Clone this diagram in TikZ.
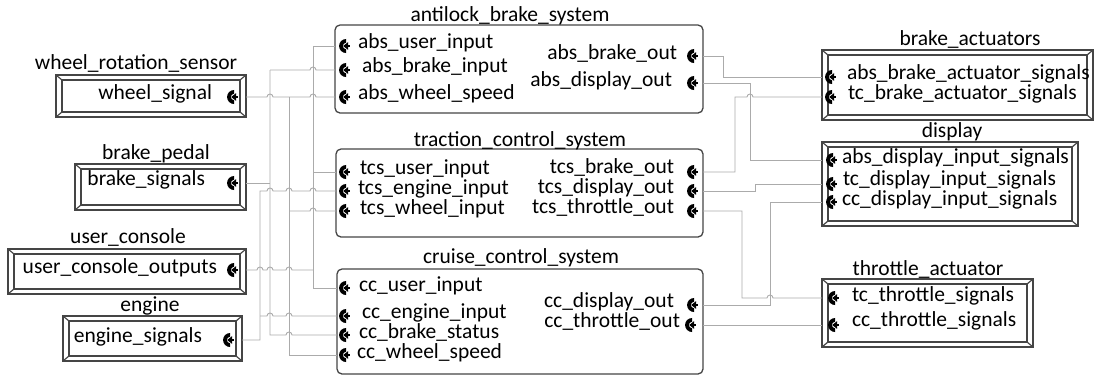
\documentclass[tikz,border=0pt]{standalone}
\usepackage{fontspec}
\setmainfont{Carlito}
\definecolor{wiregray}{HTML}{ABABAB}
\definecolor{framegray}{HTML}{454545}

% framed component box with bevelled double border
\newcommand\bevelbox[5]{%
  \node[frameline, minimum width={#4-#2}, minimum height={#5-#3}, anchor=north west] (#1) at (#2,#3) {};
  \draw[frameline] ([xshift=6pt,yshift=-5pt]#1.north west) rectangle ([xshift=-6pt,yshift=5pt]#1.south east);
  \draw[frameline] (#1.north west) -- ++(6pt,-5pt)
                   (#1.north east) -- ++(-6pt,-5pt)
                   (#1.south west) -- ++(6pt,5pt)
                   (#1.south east) -- ++(-6pt,5pt);}
% small bridge where a wire jumps over another one
\newcommand\hp[2]{-- (#1-3,#2) arc[start angle=180,end angle=0,radius=3pt]}

\begin{document}
\begin{tikzpicture}[x=1pt,y=-1pt,
  every node/.style={font=\fontsize{21.5}{24}\selectfont, inner sep=0pt, outer sep=0pt,
                     text height=10pt, text depth=2pt},
  wire/.style={draw=wiregray, line width=0.9pt},
  frameline/.style={draw=framegray, line width=1.2pt},
  midbox/.style={draw=framegray, line width=1.3pt, rounded corners=5pt, anchor=north west},
  portmark/.pic={
    \begin{scope}[scale=1.3]
    % thick crescent open to the right
    \fill[black] (1.6pt,5.4pt) .. controls (-1.38pt,5.4pt) and (-3.8pt,2.98pt) .. (-3.8pt,0pt)
                 .. controls (-3.8pt,-2.98pt) and (-1.38pt,-5.4pt) .. (1.6pt,-5.4pt)
                 -- (1.6pt,-2.5pt) .. controls (0.22pt,-2.5pt) and (-0.9pt,-1.38pt) .. (-0.9pt,0pt)
                 .. controls (-0.9pt,1.38pt) and (0.22pt,2.5pt) .. (1.6pt,2.5pt) -- cycle;
    % arrow pointing into the crescent
    \fill[black] (-0.6pt,0pt) -- (3.2pt,3pt) -- (3.2pt,-3pt) -- cycle;
    \fill[black] (3pt,-0.8pt) rectangle (4.6pt,0.8pt);
    \end{scope}}]

\useasboundingbox (0,0) rectangle (1095,376);

% ---------- external components ----------
\bevelbox{wrs}{56}{75}{246}{117}
\bevelbox{bp}{75}{164}{246}{210}
\bevelbox{uc}{8}{249}{246}{294}
\bevelbox{eng}{63}{316}{242}{361}
\bevelbox{ba}{822}{50}{1093}{120}
\bevelbox{disp}{822}{142}{1078}{226}
\bevelbox{ta}{822}{279}{1033}{347}

\node[anchor=base] (wrs-title) at (136,69) {wheel\_rotation\_sensor};
\node[anchor=base] (bp-title) at (156,159) {brake\_pedal};
\node[anchor=base] (uc-title) at (128,243) {user\_console};
\node[anchor=base] (eng-title) at (150,311) {engine};
\node[anchor=base] (ba-title) at (970,45) {brake\_actuators};
\node[anchor=base] (disp-title) at (952,137) {display};
\node[anchor=base] (ta-title) at (928,275) {throttle\_actuator};

\node[anchor=mid east] (wrs-p) at (212,97) {wheel\_signal};
\node[anchor=mid east] (bp-p) at (205,183) {brake\_signals};
\node[anchor=mid east] (uc-p) at (217,271) {user\_console\_outputs};
\node[anchor=mid east] (eng-p) at (202,340) {engine\_signals};
\pic at (232,97) {portmark};
\pic at (232,183) {portmark};
\pic at (232,270) {portmark};
\pic at (228,340) {portmark};

\node[anchor=mid west] (ba-p1) at (847,77) {abs\_brake\_actuator\_signals};
\node[anchor=mid west] (ba-p2) at (848,97) {tc\_brake\_actuator\_signals};
\node[anchor=mid west] (disp-p1) at (842,161) {abs\_display\_input\_signals};
\node[anchor=mid west] (disp-p2) at (843,183) {tc\_display\_input\_signals};
\node[anchor=mid west] (disp-p3) at (842,203) {cc\_display\_input\_signals};
\node[anchor=mid west] (ta-p1) at (852,299) {tc\_throttle\_signals};
\node[anchor=mid west] (ta-p2) at (852,324) {cc\_throttle\_signals};
\foreach \yy in {77,97} \pic at (830,\yy) {portmark};
\foreach \yy in {160,184,202} \pic at (831,\yy) {portmark};
\foreach \yy in {298,325} \pic at (833,\yy) {portmark};

% ---------- controllers ----------
\node[midbox, minimum width=368, minimum height=88] (abs) at (335,25) {};
\node[midbox, minimum width=367, minimum height=88] (tcs) at (336,149) {};
\node[midbox, minimum width=366, minimum height=105] (cc) at (337,269) {};

\node[anchor=base] (abs-title) at (510,21) {antilock\_brake\_system};
\node[anchor=base] (tcs-title) at (520,146) {traction\_control\_system};
\node[anchor=base] (cc-title) at (521,263) {cruise\_control\_system};

\node[anchor=mid west] (abs-t1) at (358,46) {abs\_user\_input};
\node[anchor=mid west] (abs-t2) at (362,70) {abs\_brake\_input};
\node[anchor=mid west] (abs-t3) at (358,97) {abs\_wheel\_speed};
\node[anchor=mid west] (tcs-t1) at (360,172) {tcs\_user\_input};
\node[anchor=mid west] (tcs-t2) at (358,192) {tcs\_engine\_input};
\node[anchor=mid west] (tcs-t3) at (360,212) {tcs\_wheel\_input};
\node[anchor=mid west] (cc-t1) at (359,289) {cc\_user\_input};
\node[anchor=mid west] (cc-t2) at (362,316) {cc\_engine\_input};
\node[anchor=mid west] (cc-t3) at (359,336) {cc\_brake\_status};
\node[anchor=mid west] (cc-t4) at (357,356) {cc\_wheel\_speed};
\foreach \yy in {46,70,97,172,191,211,288,316,335,355} \pic at (344,\yy) {portmark};

\node[anchor=mid east] (abs-o1) at (677,57) {abs\_brake\_out};
\node[anchor=mid east] (abs-o2) at (672,84) {abs\_display\_out};
\node[anchor=mid east] (tcs-o1) at (674,171) {tcs\_brake\_out};
\node[anchor=mid east] (tcs-o2) at (674,191) {tcs\_display\_out};
\node[anchor=mid east] (tcs-o3) at (674,211) {tcs\_throttle\_out};
\node[anchor=mid east] (cc-o1) at (674,305) {cc\_display\_out};
\node[anchor=mid east] (cc-o2) at (680,325) {cc\_throttle\_out};
\foreach \yy in {56,83,172,191,211,305} \pic at (692,\yy) {portmark};
\pic at (690,325) {portmark};

% ---------- connection points ----------
\coordinate (wrs-o) at (wrs.east |- 0,97);
\coordinate (bp-o) at (bp.east |- 0,183);
\coordinate (uc-o) at (uc.east |- 0,270);
\coordinate (eng-o) at (eng.east |- 0,340);
\coordinate (abs-ui) at (abs.west |- 0,46);
\coordinate (abs-bi) at (abs.west |- 0,70);
\coordinate (abs-ws) at (abs.west |- 0,97);
\coordinate (tcs-ui) at (tcs.west |- 0,172);
\coordinate (tcs-ei) at (tcs.west |- 0,191);
\coordinate (tcs-wi) at (tcs.west |- 0,211);
\coordinate (cc-ui) at (cc.west |- 0,288);
\coordinate (cc-ei) at (cc.west |- 0,316);
\coordinate (cc-bs) at (cc.west |- 0,335);
\coordinate (cc-ws) at (cc.west |- 0,355);
\coordinate (abs-bo) at (abs.east |- 0,56);
\coordinate (abs-do) at (abs.east |- 0,83);
\coordinate (tcs-bo) at (tcs.east |- 0,172);
\coordinate (tcs-do) at (tcs.east |- 0,191);
\coordinate (tcs-to) at (tcs.east |- 0,211);
\coordinate (cc-do) at (cc.east |- 0,305);
\coordinate (cc-to) at (cc.east |- 0,325);
\coordinate (ba-a) at (ba.west |- 0,77);
\coordinate (ba-t) at (ba.west |- 0,97);
\coordinate (disp-a) at (disp.west |- 0,160);
\coordinate (disp-t) at (disp.west |- 0,184);
\coordinate (disp-c) at (disp.west |- 0,202);
\coordinate (ta-t) at (ta.west |- 0,298);
\coordinate (ta-c) at (ta.west |- 0,325);

% ---------- wiring: sensors and console to controllers ----------
\draw[wire] (wrs-o) \hp{270}{97} \hp{313}{97} -- (abs-ws);
\draw[wire] (wrs-o -| 289,0) -- (289,355) -- (cc-ws);
\draw[wire] (289,211) \hp{313}{211} -- (tcs-wi);

\draw[wire] (bp-o) -- (270,183);
\draw[wire] (270,70) \hp{313}{70} -- (abs-bi);
\draw[wire] (270,70) -- (270,335) \hp{289}{335} -- (cc-bs);

\draw[wire] (uc-o) \hp{260}{270} \hp{270}{270} \hp{289}{270} -- (313,270);
\draw[wire] (abs-ui) -| (313,288) -- (cc-ui);
\draw[wire] (313,172) -- (tcs-ui);

\draw[wire] (eng-o) -- (260,340) -- (260,191) \hp{270}{191} \hp{289}{191} \hp{313}{191} -- (tcs-ei);
\draw[wire] (260,316) \hp{270}{316} \hp{289}{316} -- (cc-ei);

% ---------- wiring: controllers to actuators and display ----------
\draw[wire] (abs-bo) -| (723,77) -- (ba-a);
\draw[wire] (abs-do) -| (750,160) -- (disp-a);
\draw[wire] (tcs-bo) -| (735,97) \hp{750}{97} -- (ba-t);
\draw[wire] (tcs-do) -| (755,184) -- (disp-t);
\draw[wire] (tcs-to) -| (742,298) \hp{770}{298} -- (ta-t);
\draw[wire] (cc-do) -| (770,202) -- (disp-c);
\draw[wire] (cc-to) -- (ta-c);
\end{tikzpicture}
\end{document}
